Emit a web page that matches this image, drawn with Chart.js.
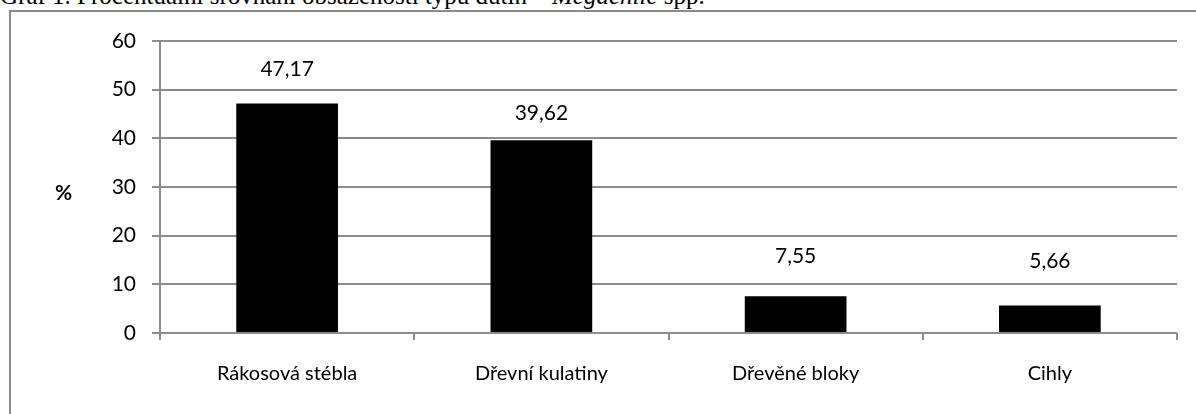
<!DOCTYPE html>
<html>
<head>
<meta charset="utf-8">
<script src="https://cdn.jsdelivr.net/npm/chart.js@4"></script>
<style>
  html, body { margin: 0; padding: 0; background: #fff; overflow: hidden; }
  body { width: 1196px; height: 414px; position: relative; font-family: Lato, sans-serif; }
  #title { position: absolute; left: 0; top: -18px; font-family: "Liberation Serif", serif; font-size: 25px; white-space: nowrap; color: #000; }
  #frame { position: absolute; left: 9px; top: 10px; width: 1200px; height: 420px; border: 2px solid #8a8a8a; }
  #wrap { position: absolute; left: 0; top: 0; width: 1196px; height: 414px; }
  #pct { position: absolute; left: 55px; top: 179px; font-weight: bold; font-size: 21px; }
</style>
</head>
<body>
<div id="title">Graf 1. Procentuální srovnání obsazenosti typů dutin – <i>Megachile</i> spp.</div>
<div id="frame"></div>
<div id="wrap"><canvas id="chart" width="1196" height="414"></canvas></div>
<div id="pct">%</div>
<script>
// Chart data
const categories = ["Rákosová stébla", "Dřevní kulatiny", "Dřevěné bloky", "Cihly"];
const percentages = [47.17, 39.62, 7.55, 5.66];
const yTicks = [0, 10, 20, 30, 40, 50, 60];

// how far above each bar its value label sits (px), as in the original
const labelLift = [34, 27, 40, 44];

// labels above the bars, decimal comma
const barValueLabels = {
    id: "barValueLabels",
    afterDatasetsDraw(chart) {
        const ctx = chart.ctx;
        const meta = chart.getDatasetMeta(0);
        ctx.save();
        ctx.font = "21px Lato";
        ctx.fillStyle = "#000";
        ctx.textAlign = "center";
        ctx.textBaseline = "middle";
        meta.data.forEach((bar, i) => {
            ctx.fillText(percentages[i].toFixed(2).replace(".", ","), bar.x, bar.y - labelLift[i]);
        });
        ctx.restore();
    }
};

new Chart(document.getElementById("chart"), {
    type: "bar",
    data: {
        labels: categories,
        datasets: [{
            data: percentages,
            backgroundColor: "#000",
            barPercentage: 0.4,
            categoryPercentage: 1
        }]
    },
    options: {
        responsive: false,
        animation: false,
        devicePixelRatio: 1,
        layout: { padding: { left: 0, top: 41, right: 19, bottom: 21 } },
        plugins: { legend: { display: false }, tooltip: { enabled: false } },
        scales: {
            x: {
                grid: { drawOnChartArea: false, drawTicks: true, tickLength: 7, color: "#8c8c8c", lineWidth: 2, offset: true },
                border: { display: false },
                ticks: { color: "#000", font: { family: "Lato", size: 20 }, padding: 22, maxRotation: 0 },
                afterFit: (scale) => { scale.height = 60; }
            },
            y: {
                min: 0,
                max: 60,
                afterBuildTicks: (scale) => { scale.ticks = yTicks.map(v => ({ value: v })); },
                grid: { color: "#8c8c8c", lineWidth: 2, tickLength: 8 },
                border: { color: "#8c8c8c", width: 2 },
                ticks: { color: "#000", font: { family: "Lato", size: 21 }, padding: 16 },
                afterFit: (scale) => { scale.width = 160; }
            }
        }
    },
    plugins: [barValueLabels]
});
</script>
</body>
</html>
